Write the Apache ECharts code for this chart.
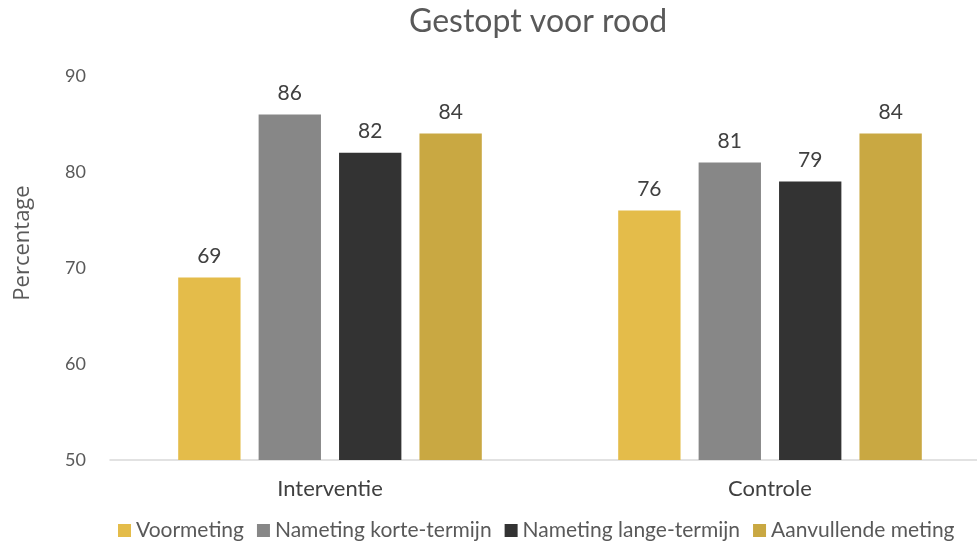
<!DOCTYPE html>
<html>
<head>
<meta charset="utf-8">
<script src="https://cdn.jsdelivr.net/npm/echarts@6/dist/echarts.min.js"></script>
<style>
  html, body { margin: 0; padding: 0; background: #fff; }
  #main { width: 977px; height: 548px; }
</style>
</head>
<body>
<div id="main"></div>
<script>
// gegevens
var categories = ['Interventie', 'Controle'];
var seriesNames = ['Voormeting', 'Nameting korte-termijn', 'Nameting lange-termijn', 'Aanvullende meting'];
var voormeting = [69, 76];
var nametingKort = [86, 81];
var nametingLang = [82, 79];
var aanvullend = [84, 84];
var yTicks = [50, 60, 70, 80, 90];

var colors = ['#E4BC4A', '#878787', '#333333', '#C9A842'];
var font = 'Lato, "Open Sans", sans-serif';

function makeSeries(name, data) {
	return {
		name : name,
		type : 'bar',
		data : data,
		barGap : '29%',
		barCategoryGap : '31%',
		label : {
			show : true,
			position : 'top',
			distance : 11,
			color : '#404040',
			fontSize : 21,
			fontFamily : font
		}
	};
}

var myChart = echarts.init(document.getElementById('main'));
var option = {
	color : colors,
	title : {
		text : 'Gestopt voor rood',
		left : 404,
		top : 1,
		textStyle : { color : '#595959', fontSize : 32, fontWeight : 'normal', fontFamily : font }
	},
	legend : {
		bottom : 2,
		left : 113,
		itemWidth : 13,
		itemHeight : 13,
		itemGap : 13,
		icon : 'rect',
		textStyle : { color : '#595959', fontSize : 21, fontFamily : font },
		data : seriesNames
	},
	grid : { left : 110, width : 880, top : 76, bottom : 88, outerBoundsMode : 'none' },
	xAxis : {
		type : 'category',
		data : categories,
		axisLine : { lineStyle : { color : '#d9d9d9', width : 1.5 } },
		axisTick : { show : false },
		axisLabel : { color : '#404040', fontSize : 22, margin : 18, fontFamily : font }
	},
	yAxis : {
		type : 'value',
		min : yTicks[0],
		max : yTicks[yTicks.length - 1],
		interval : 10,
		name : 'Percentage',
		nameLocation : 'middle',
		nameGap : 76,
		nameTextStyle : { color : '#595959', fontSize : 22, fontFamily : '"Open Sans", sans-serif', padding : [0, 0, 0, 50] },
		splitLine : { show : false },
		axisLine : { show : false },
		axisTick : { show : false },
		axisLabel : { color : '#595959', fontSize : 18, margin : 24, fontFamily : font }
	},
	series : [
		makeSeries(seriesNames[0], voormeting),
		makeSeries(seriesNames[1], nametingKort),
		makeSeries(seriesNames[2], nametingLang),
		makeSeries(seriesNames[3], aanvullend)
	]
};
myChart.setOption(option);
</script>
</body>
</html>
